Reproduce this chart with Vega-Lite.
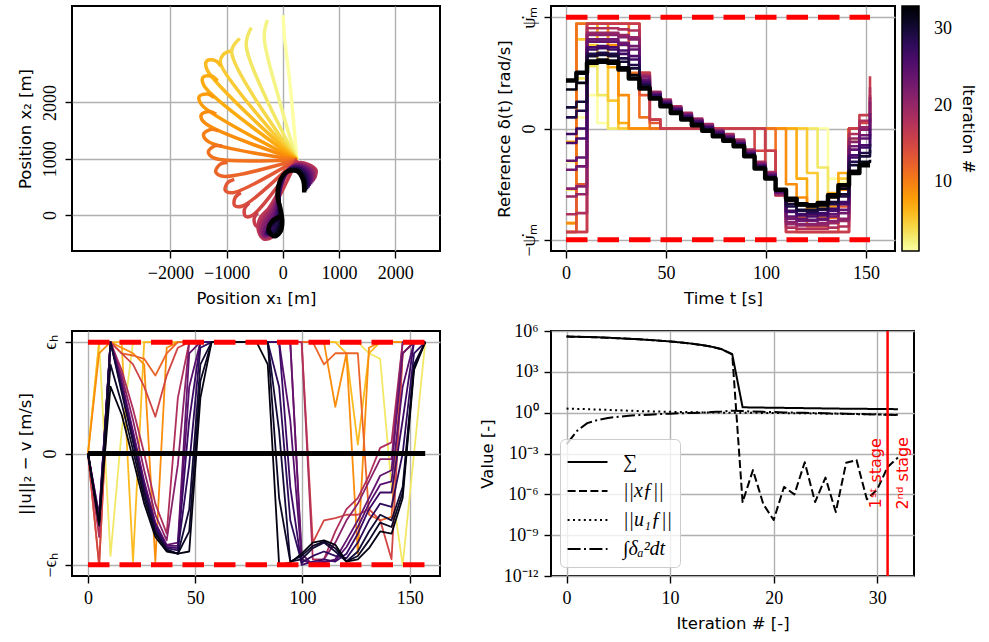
{
  "$schema": "https://vega.github.io/schema/vega-lite/v6.json",
  "background": "white",
  "padding": {"left": 16, "top": 5, "right": 5, "bottom": 5},
  "columns": 2,
  "bounds": "flush",
  "spacing": {"column": 111, "row": 80},
  "config": {
    "font": "DejaVu Sans",
    "view": {"stroke": "black", "strokeWidth": 2},
    "axis": {
      "domain": false, "grid": true, "gridColor": "#b0b0b0", "gridWidth": 1.4,
      "tickColor": "black", "tickSize": 7, "tickWidth": 1.4,
      "labelFont": "Liberation Serif", "labelFontSize": 18, "labelColor": "black", "labelPadding": 6,
      "labelFlush": false, "labelOverlap": false, "labelBound": false,
      "titleFont": "DejaVu Sans", "titleFontSize": 16.5, "titleFontWeight": "normal", "titleColor": "black", "titlePadding": 8
    },
    "line": {"strokeJoin": "round"}
  },
  "resolve": {"scale": {"color": "independent", "strokeDash": "independent"}, "legend": {"color": "independent", "strokeDash": "independent"}},
  "datasets": {
    "traj": [
      {"k":1,"x":250,"y":980},{"k":1,"x":120,"y":2400},{"k":1,"x":30,"y":3150},{"k":1,"x":5,"y":3550},
      {"k":2,"x":250,"y":980},{"k":2,"x":-60,"y":2030},{"k":2,"x":-330,"y":3150},{"k":2,"x":-275,"y":3465},
      {"k":3,"x":250,"y":980},{"k":3,"x":-650,"y":3000},{"k":3,"x":-560,"y":3330},
      {"k":4,"x":250,"y":980},{"k":4,"x":-910,"y":2900},{"k":4,"x":-765,"y":3135},
      {"k":5,"x":250,"y":980},{"k":5,"x":-1110,"y":2700},{"k":5,"x":-1060,"y":2850},{"k":5,"x":-936,"y":2913},
      {"k":6,"x":250,"y":980},{"k":6,"x":-1349,"y":2584},{"k":6,"x":-1349,"y":2740},{"k":6,"x":-1193,"y":2739},{"k":6,"x":-1101,"y":2647},
      {"k":7,"x":250,"y":980},{"k":7,"x":-1399,"y":2292},{"k":7,"x":-1417,"y":2447},{"k":7,"x":-1262,"y":2464},{"k":7,"x":-1160,"y":2383},
      {"k":8,"x":250,"y":980},{"k":8,"x":-1444,"y":1958},{"k":8,"x":-1484,"y":2108},{"k":8,"x":-1334,"y":2149},{"k":8,"x":-1221,"y":2084},
      {"k":9,"x":250,"y":980},{"k":9,"x":-1390,"y":1636},{"k":9,"x":-1451,"y":1779},{"k":9,"x":-1308,"y":1840},{"k":9,"x":-1187,"y":1792},
      {"k":10,"x":250,"y":980},{"k":10,"x":-1323,"y":1303},{"k":10,"x":-1409,"y":1433},{"k":10,"x":-1279,"y":1519},{"k":10,"x":-1152,"y":1493},
      {"k":11,"x":250,"y":980},{"k":11,"x":-1217,"y":1008},{"k":11,"x":-1325,"y":1120},{"k":11,"x":-1213,"y":1228},{"k":11,"x":-1083,"y":1226},
      {"k":12,"x":250,"y":980},{"k":12,"x":-1063,"y":687},{"k":12,"x":-1194,"y":770},{"k":12,"x":-1111,"y":902},{"k":12,"x":-984,"y":930},
      {"k":13,"x":250,"y":980},{"k":13,"x":-889,"y":396},{"k":13,"x":-1024,"y":439},{"k":13,"x":-980,"y":574},{"k":13,"x":-864,"y":633},
      {"k":14,"x":250,"y":980},{"k":14,"x":-717,"y":160},{"k":14,"x":-858,"y":172},{"k":14,"x":-846,"y":313},{"k":14,"x":-747,"y":397},
      {"k":15,"x":250,"y":980},{"k":15,"x":-540,"y":-7},{"k":15,"x":-667,"y":-21},{"k":15,"x":-681,"y":106},{"k":15,"x":-600,"y":208},
      {"k":16,"x":250,"y":980},{"k":16,"x":-352,"y":-157},{"k":16,"x":-474,"y":-194},{"k":16,"x":-511,"y":-73},{"k":16,"x":-450,"y":42},
      {"k":17,"x":560,"y":640},{"k":17,"x":590,"y":800},{"k":17,"x":450,"y":900},{"k":17,"x":280,"y":930},{"k":17,"x":120,"y":820},{"k":17,"x":0,"y":600},{"k":17,"x":-120,"y":330},{"k":17,"x":-250,"y":120},{"k":17,"x":-400,"y":-50},{"k":17,"x":-440,"y":-250},{"k":17,"x":-350,"y":-420},{"k":17,"x":-200,"y":-400},{"k":17,"x":-120,"y":-300},
      {"k":19,"x":538,"y":610},{"k":19,"x":561,"y":778},{"k":19,"x":425,"y":885},{"k":19,"x":253,"y":909},{"k":19,"x":98,"y":790},{"k":19,"x":-12,"y":568},{"k":19,"x":-110,"y":301},{"k":19,"x":-220,"y":90},{"k":19,"x":-355,"y":-80},{"k":19,"x":-404,"y":-266},{"k":19,"x":-338,"y":-400},{"k":19,"x":-199,"y":-364},{"k":19,"x":-110,"y":-265},
      {"k":21,"x":515,"y":580},{"k":21,"x":532,"y":755},{"k":21,"x":400,"y":870},{"k":21,"x":225,"y":888},{"k":21,"x":75,"y":760},{"k":21,"x":-24,"y":535},{"k":21,"x":-100,"y":272},{"k":21,"x":-190,"y":60},{"k":21,"x":-310,"y":-110},{"k":21,"x":-368,"y":-282},{"k":21,"x":-325,"y":-380},{"k":21,"x":-198,"y":-328},{"k":21,"x":-100,"y":-230},
      {"k":23,"x":493,"y":550},{"k":23,"x":504,"y":733},{"k":23,"x":375,"y":855},{"k":23,"x":198,"y":867},{"k":23,"x":53,"y":730},{"k":23,"x":-36,"y":503},{"k":23,"x":-90,"y":244},{"k":23,"x":-160,"y":30},{"k":23,"x":-265,"y":-140},{"k":23,"x":-332,"y":-299},{"k":23,"x":-313,"y":-360},{"k":23,"x":-197,"y":-292},{"k":23,"x":-90,"y":-195},
      {"k":25,"x":470,"y":520},{"k":25,"x":475,"y":710},{"k":25,"x":350,"y":840},{"k":25,"x":170,"y":845},{"k":25,"x":30,"y":700},{"k":25,"x":-47,"y":470},{"k":25,"x":-80,"y":215},{"k":25,"x":-130,"y":0},{"k":25,"x":-220,"y":-170},{"k":25,"x":-295,"y":-315},{"k":25,"x":-300,"y":-340},{"k":25,"x":-195,"y":-255},{"k":25,"x":-80,"y":-160},
      {"k":27,"x":448,"y":490},{"k":27,"x":447,"y":688},{"k":27,"x":325,"y":825},{"k":27,"x":143,"y":824},{"k":27,"x":8,"y":670},{"k":27,"x":-59,"y":438},{"k":27,"x":-70,"y":187},{"k":27,"x":-100,"y":-30},{"k":27,"x":-175,"y":-200},{"k":27,"x":-259,"y":-332},{"k":27,"x":-288,"y":-320},{"k":27,"x":-194,"y":-219},{"k":27,"x":-70,"y":-125},
      {"k":29,"x":425,"y":460},{"k":29,"x":418,"y":665},{"k":29,"x":300,"y":810},{"k":29,"x":115,"y":802},{"k":29,"x":-15,"y":640},{"k":29,"x":-71,"y":405},{"k":29,"x":-60,"y":158},{"k":29,"x":-70,"y":-60},{"k":29,"x":-130,"y":-230},{"k":29,"x":-222,"y":-348},{"k":29,"x":-275,"y":-300},{"k":29,"x":-192,"y":-182},{"k":29,"x":-60,"y":-90},
      {"k":31,"x":403,"y":430},{"k":31,"x":389,"y":643},{"k":31,"x":275,"y":795},{"k":31,"x":88,"y":781},{"k":31,"x":-38,"y":610},{"k":31,"x":-83,"y":373},{"k":31,"x":-50,"y":129},{"k":31,"x":-40,"y":-90},{"k":31,"x":-85,"y":-260},{"k":31,"x":-186,"y":-364},{"k":31,"x":-263,"y":-280},{"k":31,"x":-191,"y":-146},{"k":31,"x":-50,"y":-55},
      {"k":33,"x":380,"y":400},{"k":33,"x":360,"y":620},{"k":33,"x":250,"y":780},{"k":33,"x":60,"y":760},{"k":33,"x":-60,"y":580},{"k":33,"x":-95,"y":340},{"k":33,"x":-40,"y":100},{"k":33,"x":-10,"y":-120},{"k":33,"x":-40,"y":-290},{"k":33,"x":-150,"y":-380},{"k":33,"x":-250,"y":-260},{"k":33,"x":-190,"y":-110},{"k":33,"x":-40,"y":-20}
    ],
    "ref": [
      {"k":1,"t":0,"d":-0.3},{"k":1,"t":5.2,"d":0.1},{"k":1,"t":10.5,"d":0.3},{"k":1,"t":15.7,"d":0.05},{"k":1,"t":21,"d":0},{"k":1,"t":131,"d":-0.45},{"k":1,"t":136.2,"d":-0.48},{"k":1,"t":141.5,"d":-0.1},{"k":1,"t":146.7,"d":0},{"k":1,"t":152,"d":0},
      {"k":3,"t":0,"d":-0.55},{"k":3,"t":5.2,"d":0.45},{"k":3,"t":10.5,"d":0.56},{"k":3,"t":15.7,"d":0.3},{"k":3,"t":21,"d":0},{"k":3,"t":125.8,"d":-0.35},{"k":3,"t":131,"d":-0.62},{"k":3,"t":136.2,"d":-0.5},{"k":3,"t":141.5,"d":0},{"k":3,"t":152,"d":0},
      {"k":5,"t":0,"d":-0.85},{"k":5,"t":5.2,"d":0.8},{"k":5,"t":10.5,"d":0.75},{"k":5,"t":15.7,"d":0.6},{"k":5,"t":21,"d":0.25},{"k":5,"t":26.2,"d":0},{"k":5,"t":120.5,"d":-0.4},{"k":5,"t":125.8,"d":-0.68},{"k":5,"t":131,"d":-0.62},{"k":5,"t":136.2,"d":-0.45},{"k":5,"t":141.5,"d":0},{"k":5,"t":152,"d":0},
      {"k":7,"t":0,"d":-0.12},{"k":7,"t":5.2,"d":0.94},{"k":7,"t":15.7,"d":0.8},{"k":7,"t":21,"d":0.55},{"k":7,"t":26.2,"d":0.05},{"k":7,"t":31.4,"d":0},{"k":7,"t":115.3,"d":-0.45},{"k":7,"t":120.5,"d":-0.72},{"k":7,"t":125.8,"d":-0.7},{"k":7,"t":131,"d":-0.58},{"k":7,"t":136.2,"d":-0.4},{"k":7,"t":141.5,"d":0},{"k":7,"t":152,"d":0},
      {"k":9,"t":0,"d":-0.85},{"k":9,"t":5.2,"d":0.94},{"k":9,"t":21,"d":0.75},{"k":9,"t":26.2,"d":0.3},{"k":9,"t":31.4,"d":0},{"k":9,"t":110,"d":-0.5},{"k":9,"t":115.3,"d":-0.62},{"k":9,"t":120.5,"d":-0.78},{"k":9,"t":125.8,"d":-0.8},{"k":9,"t":131,"d":-0.7},{"k":9,"t":136.2,"d":-0.55},{"k":9,"t":141.5,"d":0},{"k":9,"t":152,"d":0},
      {"k":11,"t":0,"d":-0.93},{"k":11,"t":5.2,"d":0.94},{"k":11,"t":31.4,"d":0.5},{"k":11,"t":36.7,"d":0.1},{"k":11,"t":41.9,"d":0},{"k":11,"t":104.8,"d":-0.55},{"k":11,"t":110,"d":-0.65},{"k":11,"t":115.3,"d":-0.8},{"k":11,"t":120.5,"d":-0.88},{"k":11,"t":131,"d":-0.8},{"k":11,"t":136.2,"d":-0.6},{"k":11,"t":141.5,"d":0},{"k":11,"t":152,"d":0},
      {"k":13,"t":0,"d":-0.93},{"k":13,"t":5.2,"d":-0.5},{"k":13,"t":10.5,"d":0.94},{"k":13,"t":36.7,"d":0.3},{"k":13,"t":41.9,"d":0.05},{"k":13,"t":47.2,"d":0},{"k":13,"t":99.6,"d":-0.2},{"k":13,"t":104.8,"d":-0.6},{"k":13,"t":110,"d":-0.8},{"k":13,"t":115.3,"d":-0.93},{"k":13,"t":136.2,"d":-0.7},{"k":13,"t":141.5,"d":0},{"k":13,"t":152,"d":0},
      {"k":15,"t":0,"d":-0.93},{"k":15,"t":10.5,"d":0.94},{"k":15,"t":36.7,"d":0.5},{"k":15,"t":41.9,"d":0.08},{"k":15,"t":47.2,"d":0},{"k":15,"t":94.3,"d":-0.2},{"k":15,"t":99.6,"d":-0.4},{"k":15,"t":104.8,"d":-0.6},{"k":15,"t":110,"d":-0.93},{"k":15,"t":141.5,"d":0},{"k":15,"t":146.7,"d":0.05},{"k":15,"t":152,"d":0.3},
      {"k":16,"t":0,"d":-0.93},{"k":16,"t":10.5,"d":0.94},{"k":16,"t":36.7,"d":0.5},{"k":16,"t":41.9,"d":0.08},{"k":16,"t":47.2,"d":0},{"k":16,"t":99.6,"d":-0.2},{"k":16,"t":104.8,"d":-0.55},{"k":16,"t":110,"d":-0.93},{"k":16,"t":141.5,"d":0},{"k":16,"t":146.7,"d":0.12},{"k":16,"t":152,"d":0.47},
      {"k":18,"t":0,"d":-0.77},{"k":18,"t":5.2,"d":-0.76},{"k":18,"t":10.5,"d":0.9},{"k":18,"t":15.7,"d":0.9},{"k":18,"t":21,"d":0.9},{"k":18,"t":26.2,"d":0.89},{"k":18,"t":31.4,"d":0.88},{"k":18,"t":36.7,"d":0.48},{"k":18,"t":41.9,"d":0.33},{"k":18,"t":47.2,"d":0.26},{"k":18,"t":52.4,"d":0.2},{"k":18,"t":57.6,"d":0.14},{"k":18,"t":62.9,"d":0.09},{"k":18,"t":68.1,"d":0.04},{"k":18,"t":73.4,"d":-0.01},{"k":18,"t":78.6,"d":-0.05},{"k":18,"t":83.8,"d":-0.1},{"k":18,"t":89.1,"d":-0.19},{"k":18,"t":94.3,"d":-0.3},{"k":18,"t":99.6,"d":-0.39},{"k":18,"t":104.8,"d":-0.6},{"k":18,"t":110,"d":-0.89},{"k":18,"t":115.3,"d":-0.9},{"k":18,"t":120.5,"d":-0.9},{"k":18,"t":125.8,"d":-0.9},{"k":18,"t":131,"d":-0.89},{"k":18,"t":136.2,"d":-0.88},{"k":18,"t":141.5,"d":-0.05},{"k":18,"t":146.7,"d":0.07},{"k":18,"t":152,"d":0.37},
      {"k":20,"t":0,"d":-0.61},{"k":20,"t":5.2,"d":-0.59},{"k":20,"t":10.5,"d":0.86},{"k":20,"t":15.7,"d":0.86},{"k":20,"t":21,"d":0.86},{"k":20,"t":26.2,"d":0.84},{"k":20,"t":31.4,"d":0.82},{"k":20,"t":36.7,"d":0.47},{"k":20,"t":41.9,"d":0.32},{"k":20,"t":47.2,"d":0.25},{"k":20,"t":52.4,"d":0.19},{"k":20,"t":57.6,"d":0.13},{"k":20,"t":62.9,"d":0.08},{"k":20,"t":68.1,"d":0.03},{"k":20,"t":73.4,"d":-0.02},{"k":20,"t":78.6,"d":-0.06},{"k":20,"t":83.8,"d":-0.11},{"k":20,"t":89.1,"d":-0.2},{"k":20,"t":94.3,"d":-0.31},{"k":20,"t":99.6,"d":-0.4},{"k":20,"t":104.8,"d":-0.59},{"k":20,"t":110,"d":-0.86},{"k":20,"t":115.3,"d":-0.87},{"k":20,"t":120.5,"d":-0.87},{"k":20,"t":125.8,"d":-0.87},{"k":20,"t":131,"d":-0.85},{"k":20,"t":136.2,"d":-0.83},{"k":20,"t":141.5,"d":-0.09},{"k":20,"t":146.7,"d":0.01},{"k":20,"t":152,"d":0.28},
      {"k":21,"t":0,"d":-0.54},{"k":21,"t":5.2,"d":-0.52},{"k":21,"t":10.5,"d":0.84},{"k":21,"t":15.7,"d":0.84},{"k":21,"t":21,"d":0.84},{"k":21,"t":26.2,"d":0.82},{"k":21,"t":31.4,"d":0.8},{"k":21,"t":36.7,"d":0.46},{"k":21,"t":41.9,"d":0.32},{"k":21,"t":47.2,"d":0.25},{"k":21,"t":52.4,"d":0.19},{"k":21,"t":57.6,"d":0.13},{"k":21,"t":62.9,"d":0.08},{"k":21,"t":68.1,"d":0.03},{"k":21,"t":73.4,"d":-0.02},{"k":21,"t":78.6,"d":-0.07},{"k":21,"t":83.8,"d":-0.12},{"k":21,"t":89.1,"d":-0.21},{"k":21,"t":94.3,"d":-0.32},{"k":21,"t":99.6,"d":-0.41},{"k":21,"t":104.8,"d":-0.58},{"k":21,"t":110,"d":-0.84},{"k":21,"t":115.3,"d":-0.86},{"k":21,"t":120.5,"d":-0.86},{"k":21,"t":125.8,"d":-0.85},{"k":21,"t":131,"d":-0.83},{"k":21,"t":136.2,"d":-0.81},{"k":21,"t":141.5,"d":-0.12},{"k":21,"t":146.7,"d":-0.01},{"k":21,"t":152,"d":0.24},
      {"k":23,"t":0,"d":-0.37},{"k":23,"t":5.2,"d":-0.34},{"k":23,"t":10.5,"d":0.8},{"k":23,"t":15.7,"d":0.8},{"k":23,"t":21,"d":0.8},{"k":23,"t":26.2,"d":0.77},{"k":23,"t":31.4,"d":0.74},{"k":23,"t":36.7,"d":0.44},{"k":23,"t":41.9,"d":0.31},{"k":23,"t":47.2,"d":0.24},{"k":23,"t":52.4,"d":0.18},{"k":23,"t":57.6,"d":0.12},{"k":23,"t":62.9,"d":0.07},{"k":23,"t":68.1,"d":0.02},{"k":23,"t":73.4,"d":-0.03},{"k":23,"t":78.6,"d":-0.07},{"k":23,"t":83.8,"d":-0.12},{"k":23,"t":89.1,"d":-0.21},{"k":23,"t":94.3,"d":-0.32},{"k":23,"t":99.6,"d":-0.41},{"k":23,"t":104.8,"d":-0.575},{"k":23,"t":110,"d":-0.81},{"k":23,"t":115.3,"d":-0.83},{"k":23,"t":120.5,"d":-0.83},{"k":23,"t":125.8,"d":-0.82},{"k":23,"t":131,"d":-0.79},{"k":23,"t":136.2,"d":-0.76},{"k":23,"t":141.5,"d":-0.16},{"k":23,"t":146.7,"d":-0.06},{"k":23,"t":152,"d":0.14},
      {"k":24,"t":0,"d":-0.29},{"k":24,"t":5.2,"d":-0.26},{"k":24,"t":10.5,"d":0.78},{"k":24,"t":15.7,"d":0.78},{"k":24,"t":21,"d":0.78},{"k":24,"t":26.2,"d":0.75},{"k":24,"t":31.4,"d":0.71},{"k":24,"t":36.7,"d":0.43},{"k":24,"t":41.9,"d":0.31},{"k":24,"t":47.2,"d":0.24},{"k":24,"t":52.4,"d":0.18},{"k":24,"t":57.6,"d":0.12},{"k":24,"t":62.9,"d":0.07},{"k":24,"t":68.1,"d":0.02},{"k":24,"t":73.4,"d":-0.03},{"k":24,"t":78.6,"d":-0.08},{"k":24,"t":83.8,"d":-0.13},{"k":24,"t":89.1,"d":-0.22},{"k":24,"t":94.3,"d":-0.33},{"k":24,"t":99.6,"d":-0.42},{"k":24,"t":104.8,"d":-0.57},{"k":24,"t":110,"d":-0.79},{"k":24,"t":115.3,"d":-0.81},{"k":24,"t":120.5,"d":-0.82},{"k":24,"t":125.8,"d":-0.81},{"k":24,"t":131,"d":-0.77},{"k":24,"t":136.2,"d":-0.73},{"k":24,"t":141.5,"d":-0.19},{"k":24,"t":146.7,"d":-0.09},{"k":24,"t":152,"d":0.09},
      {"k":26,"t":0,"d":-0.13},{"k":26,"t":5.2,"d":-0.09},{"k":26,"t":10.5,"d":0.73},{"k":26,"t":15.7,"d":0.74},{"k":26,"t":21,"d":0.73},{"k":26,"t":26.2,"d":0.7},{"k":26,"t":31.4,"d":0.65},{"k":26,"t":36.7,"d":0.42},{"k":26,"t":41.9,"d":0.3},{"k":26,"t":47.2,"d":0.227},{"k":26,"t":52.4,"d":0.167},{"k":26,"t":57.6,"d":0.107},{"k":26,"t":62.9,"d":0.057},{"k":26,"t":68.1,"d":0.007},{"k":26,"t":73.4,"d":-0.043},{"k":26,"t":78.6,"d":-0.083},{"k":26,"t":83.8,"d":-0.133},{"k":26,"t":89.1,"d":-0.223},{"k":26,"t":94.3,"d":-0.333},{"k":26,"t":99.6,"d":-0.423},{"k":26,"t":104.8,"d":-0.565},{"k":26,"t":110,"d":-0.75},{"k":26,"t":115.3,"d":-0.78},{"k":26,"t":120.5,"d":-0.79},{"k":26,"t":125.8,"d":-0.78},{"k":26,"t":131,"d":-0.74},{"k":26,"t":136.2,"d":-0.68},{"k":26,"t":141.5,"d":-0.24},{"k":26,"t":146.7,"d":-0.15},{"k":26,"t":152,"d":0},
      {"k":27,"t":0,"d":-0.05},{"k":27,"t":5.2,"d":0.0},{"k":27,"t":10.5,"d":0.71},{"k":27,"t":15.7,"d":0.72},{"k":27,"t":21,"d":0.71},{"k":27,"t":26.2,"d":0.67},{"k":27,"t":31.4,"d":0.62},{"k":27,"t":36.7,"d":0.41},{"k":27,"t":41.9,"d":0.3},{"k":27,"t":47.2,"d":0.23},{"k":27,"t":52.4,"d":0.17},{"k":27,"t":57.6,"d":0.11},{"k":27,"t":62.9,"d":0.06},{"k":27,"t":68.1,"d":0.01},{"k":27,"t":73.4,"d":-0.04},{"k":27,"t":78.6,"d":-0.09},{"k":27,"t":83.8,"d":-0.14},{"k":27,"t":89.1,"d":-0.23},{"k":27,"t":94.3,"d":-0.34},{"k":27,"t":99.6,"d":-0.43},{"k":27,"t":104.8,"d":-0.56},{"k":27,"t":110,"d":-0.74},{"k":27,"t":115.3,"d":-0.77},{"k":27,"t":120.5,"d":-0.77},{"k":27,"t":125.8,"d":-0.76},{"k":27,"t":131,"d":-0.72},{"k":27,"t":136.2,"d":-0.66},{"k":27,"t":141.5,"d":-0.26},{"k":27,"t":146.7,"d":-0.17},{"k":27,"t":152,"d":-0.05},
      {"k":29,"t":0,"d":0.1},{"k":29,"t":5.2,"d":0.16},{"k":29,"t":10.5,"d":0.67},{"k":29,"t":15.7,"d":0.68},{"k":29,"t":21,"d":0.67},{"k":29,"t":26.2,"d":0.63},{"k":29,"t":31.4,"d":0.57},{"k":29,"t":36.7,"d":0.39},{"k":29,"t":41.9,"d":0.285},{"k":29,"t":47.2,"d":0.215},{"k":29,"t":52.4,"d":0.155},{"k":29,"t":57.6,"d":0.095},{"k":29,"t":62.9,"d":0.045},{"k":29,"t":68.1,"d":-0.005},{"k":29,"t":73.4,"d":-0.055},{"k":29,"t":78.6,"d":-0.095},{"k":29,"t":83.8,"d":-0.145},{"k":29,"t":89.1,"d":-0.235},{"k":29,"t":94.3,"d":-0.345},{"k":29,"t":99.6,"d":-0.435},{"k":29,"t":104.8,"d":-0.555},{"k":29,"t":110,"d":-0.7},{"k":29,"t":115.3,"d":-0.74},{"k":29,"t":120.5,"d":-0.75},{"k":29,"t":125.8,"d":-0.73},{"k":29,"t":131,"d":-0.68},{"k":29,"t":136.2,"d":-0.61},{"k":29,"t":141.5,"d":-0.3},{"k":29,"t":146.7,"d":-0.22},{"k":29,"t":152,"d":-0.14},
      {"k":30,"t":0,"d":0.19},{"k":30,"t":5.2,"d":0.24},{"k":30,"t":10.5,"d":0.65},{"k":30,"t":15.7,"d":0.66},{"k":30,"t":21,"d":0.65},{"k":30,"t":26.2,"d":0.6},{"k":30,"t":31.4,"d":0.54},{"k":30,"t":36.7,"d":0.39},{"k":30,"t":41.9,"d":0.28},{"k":30,"t":47.2,"d":0.21},{"k":30,"t":52.4,"d":0.15},{"k":30,"t":57.6,"d":0.09},{"k":30,"t":62.9,"d":0.04},{"k":30,"t":68.1,"d":-0.01},{"k":30,"t":73.4,"d":-0.06},{"k":30,"t":78.6,"d":-0.1},{"k":30,"t":83.8,"d":-0.15},{"k":30,"t":89.1,"d":-0.24},{"k":30,"t":94.3,"d":-0.35},{"k":30,"t":99.6,"d":-0.44},{"k":30,"t":104.8,"d":-0.55},{"k":30,"t":110,"d":-0.68},{"k":30,"t":115.3,"d":-0.73},{"k":30,"t":120.5,"d":-0.73},{"k":30,"t":125.8,"d":-0.72},{"k":30,"t":131,"d":-0.66},{"k":30,"t":136.2,"d":-0.59},{"k":30,"t":141.5,"d":-0.33},{"k":30,"t":146.7,"d":-0.25},{"k":30,"t":152,"d":-0.19},
      {"k":32,"t":0,"d":0.35},{"k":32,"t":5.2,"d":0.41},{"k":32,"t":10.5,"d":0.61},{"k":32,"t":15.7,"d":0.62},{"k":32,"t":21,"d":0.61},{"k":32,"t":26.2,"d":0.55},{"k":32,"t":31.4,"d":0.48},{"k":32,"t":36.7,"d":0.37},{"k":32,"t":41.9,"d":0.28},{"k":32,"t":47.2,"d":0.21},{"k":32,"t":52.4,"d":0.15},{"k":32,"t":57.6,"d":0.09},{"k":32,"t":62.9,"d":0.04},{"k":32,"t":68.1,"d":-0.02},{"k":32,"t":73.4,"d":-0.07},{"k":32,"t":78.6,"d":-0.11},{"k":32,"t":83.8,"d":-0.16},{"k":32,"t":89.1,"d":-0.25},{"k":32,"t":94.3,"d":-0.36},{"k":32,"t":99.6,"d":-0.45},{"k":32,"t":104.8,"d":-0.55},{"k":32,"t":110,"d":-0.65},{"k":32,"t":115.3,"d":-0.69},{"k":32,"t":120.5,"d":-0.7},{"k":32,"t":125.8,"d":-0.69},{"k":32,"t":131,"d":-0.62},{"k":32,"t":136.2,"d":-0.54},{"k":32,"t":141.5,"d":-0.38},{"k":32,"t":146.7,"d":-0.3},{"k":32,"t":152,"d":-0.28},
      {"k":33,"t":0,"d":0.43},{"k":33,"t":5.2,"d":0.5},{"k":33,"t":10.5,"d":0.59},{"k":33,"t":15.7,"d":0.6},{"k":33,"t":21,"d":0.59},{"k":33,"t":26.2,"d":0.53},{"k":33,"t":31.4,"d":0.45},{"k":33,"t":36.7,"d":0.36},{"k":33,"t":41.9,"d":0.27},{"k":33,"t":47.2,"d":0.2},{"k":33,"t":52.4,"d":0.14},{"k":33,"t":57.6,"d":0.08},{"k":33,"t":62.9,"d":0.03},{"k":33,"t":68.1,"d":-0.02},{"k":33,"t":73.4,"d":-0.07},{"k":33,"t":78.6,"d":-0.11},{"k":33,"t":83.8,"d":-0.16},{"k":33,"t":89.1,"d":-0.25},{"k":33,"t":94.3,"d":-0.36},{"k":33,"t":99.6,"d":-0.45},{"k":33,"t":104.8,"d":-0.55},{"k":33,"t":110,"d":-0.63},{"k":33,"t":115.3,"d":-0.68},{"k":33,"t":120.5,"d":-0.69},{"k":33,"t":125.8,"d":-0.67},{"k":33,"t":131,"d":-0.6},{"k":33,"t":136.2,"d":-0.51},{"k":33,"t":141.5,"d":-0.4},{"k":33,"t":146.7,"d":-0.33},{"k":33,"t":152,"d":-0.33}
    ],
    "uerr": [
      {"k":3,"t":0,"u":0},{"k":3,"t":5.2,"u":1},{"k":3,"t":10.5,"u":-0.92},{"k":3,"t":15.7,"u":0.2},{"k":3,"t":21,"u":1},{"k":3,"t":125.8,"u":1},{"k":3,"t":131,"u":0.9},{"k":3,"t":136.2,"u":0.85},{"k":3,"t":141.5,"u":-0.3},{"k":3,"t":146.7,"u":-1},{"k":3,"t":152,"u":0},{"k":3,"t":157.2,"u":1},
      {"k":6,"t":0,"u":0},{"k":6,"t":5.2,"u":1},{"k":6,"t":15.7,"u":1},{"k":6,"t":21,"u":-0.97},{"k":6,"t":26.2,"u":1},{"k":6,"t":115.3,"u":1},{"k":6,"t":120.5,"u":0.9},{"k":6,"t":125.8,"u":0.08},{"k":6,"t":131,"u":0.9},{"k":6,"t":136.2,"u":1},{"k":6,"t":157.2,"u":1},
      {"k":9,"t":0,"u":0},{"k":9,"t":5.2,"u":0.9},{"k":9,"t":10.5,"u":1},{"k":9,"t":15.7,"u":0.95},{"k":9,"t":21,"u":0.9},{"k":9,"t":26.2,"u":0.8},{"k":9,"t":31.4,"u":-0.97},{"k":9,"t":36.7,"u":0.95},{"k":9,"t":41.9,"u":1},{"k":9,"t":110,"u":1},{"k":9,"t":115.3,"u":0.42},{"k":9,"t":120.5,"u":0.9},{"k":9,"t":125.8,"u":-0.9},{"k":9,"t":131,"u":0.95},{"k":9,"t":136.2,"u":1},{"k":9,"t":157.2,"u":1},
      {"k":12,"t":0,"u":0},{"k":12,"t":5.2,"u":-1},{"k":12,"t":10.5,"u":1},{"k":12,"t":15.7,"u":0.9},{"k":12,"t":21,"u":0.88},{"k":12,"t":26.2,"u":0.85},{"k":12,"t":31.4,"u":0.7},{"k":12,"t":36.7,"u":0.9},{"k":12,"t":41.9,"u":1},{"k":12,"t":104.8,"u":1},{"k":12,"t":110,"u":0.8},{"k":12,"t":115.3,"u":0.9},{"k":12,"t":125.8,"u":0.9},{"k":12,"t":131,"u":-0.55},{"k":12,"t":136.2,"u":-0.6},{"k":12,"t":141.5,"u":-0.57},{"k":12,"t":146.7,"u":0.9},{"k":12,"t":152,"u":1},{"k":12,"t":157.2,"u":1},
      {"k":15,"t":0,"u":0},{"k":15,"t":5.2,"u":-1},{"k":15,"t":10.5,"u":1},{"k":15,"t":15.7,"u":0.9},{"k":15,"t":21,"u":0.8},{"k":15,"t":26.2,"u":0.6},{"k":15,"t":31.4,"u":0.33},{"k":15,"t":36.7,"u":0.7},{"k":15,"t":41.9,"u":0.95},{"k":15,"t":47.2,"u":1},{"k":15,"t":99.6,"u":1},{"k":15,"t":104.8,"u":-0.8},{"k":15,"t":110,"u":-0.6},{"k":15,"t":115.3,"u":-0.58},{"k":15,"t":120.5,"u":-0.55},{"k":15,"t":125.8,"u":-0.55},{"k":15,"t":131,"u":-0.5},{"k":15,"t":136.2,"u":-0.6},{"k":15,"t":141.5,"u":-0.95},{"k":15,"t":146.7,"u":0.9},{"k":15,"t":152,"u":1},{"k":15,"t":157.2,"u":1},
      {"k":18,"t":0,"u":0},{"k":18,"t":5.2,"u":-0.75},{"k":18,"t":10.5,"u":1},{"k":18,"t":15.7,"u":0.75},{"k":18,"t":21,"u":0.4},{"k":18,"t":26.2,"u":0},{"k":18,"t":31.4,"u":-0.45},{"k":18,"t":36.7,"u":-0.72},{"k":18,"t":41.9,"u":0.5},{"k":18,"t":47.2,"u":1},{"k":18,"t":99.6,"u":1},{"k":18,"t":104.8,"u":-0.95},{"k":18,"t":110,"u":-0.95},{"k":18,"t":115.3,"u":-0.7},{"k":18,"t":120.5,"u":-0.5},{"k":18,"t":125.8,"u":-0.4},{"k":18,"t":131,"u":-0.2},{"k":18,"t":136.2,"u":0.05},{"k":18,"t":141.5,"u":0.1},{"k":18,"t":146.7,"u":1},{"k":18,"t":157.2,"u":1},
      {"k":21,"t":0,"u":0},{"k":21,"t":5.2,"u":-0.6},{"k":21,"t":10.5,"u":1},{"k":21,"t":15.7,"u":0.7},{"k":21,"t":21,"u":0.3},{"k":21,"t":26.2,"u":-0.15},{"k":21,"t":31.4,"u":-0.55},{"k":21,"t":36.7,"u":-0.78},{"k":21,"t":41.9,"u":-0.1},{"k":21,"t":47.2,"u":1},{"k":21,"t":94.3,"u":1},{"k":21,"t":99.6,"u":-0.95},{"k":21,"t":104.8,"u":-1},{"k":21,"t":110,"u":-0.95},{"k":21,"t":115.3,"u":-0.8},{"k":21,"t":120.5,"u":-0.6},{"k":21,"t":125.8,"u":-0.45},{"k":21,"t":131,"u":-0.25},{"k":21,"t":136.2,"u":-0.05},{"k":21,"t":141.5,"u":-0.05},{"k":21,"t":146.7,"u":1},{"k":21,"t":157.2,"u":1},
      {"k":24,"t":0,"u":0},{"k":24,"t":5.2,"u":-0.55},{"k":24,"t":10.5,"u":1},{"k":24,"t":15.7,"u":0.65},{"k":24,"t":21,"u":0.2},{"k":24,"t":26.2,"u":-0.25},{"k":24,"t":31.4,"u":-0.62},{"k":24,"t":36.7,"u":-0.82},{"k":24,"t":41.9,"u":-0.8},{"k":24,"t":47.2,"u":0.9},{"k":24,"t":52.4,"u":1},{"k":24,"t":94.3,"u":1},{"k":24,"t":99.6,"u":-0.9},{"k":24,"t":104.8,"u":-1},{"k":24,"t":110,"u":-0.98},{"k":24,"t":115.3,"u":-0.95},{"k":24,"t":120.5,"u":-0.78},{"k":24,"t":125.8,"u":-0.6},{"k":24,"t":131,"u":-0.4},{"k":24,"t":136.2,"u":-0.2},{"k":24,"t":141.5,"u":-0.15},{"k":24,"t":146.7,"u":0.9},{"k":24,"t":152,"u":1},{"k":24,"t":157.2,"u":1},
      {"k":25,"t":0,"u":0},{"k":25,"t":5.2,"u":-0.57},{"k":25,"t":10.5,"u":1},{"k":25,"t":15.7,"u":0.63},{"k":25,"t":21,"u":0.18},{"k":25,"t":26.2,"u":-0.27},{"k":25,"t":31.4,"u":-0.63},{"k":25,"t":36.7,"u":-0.83},{"k":25,"t":41.9,"u":-0.83},{"k":25,"t":47.2,"u":0.6},{"k":25,"t":52.4,"u":1},{"k":25,"t":89.1,"u":1},{"k":25,"t":94.3,"u":0.3},{"k":25,"t":99.6,"u":-0.95},{"k":25,"t":104.8,"u":-0.99},{"k":25,"t":110,"u":-0.97},{"k":25,"t":115.3,"u":-0.96},{"k":25,"t":120.5,"u":-0.84},{"k":25,"t":125.8,"u":-0.66},{"k":25,"t":131,"u":-0.45},{"k":25,"t":136.2,"u":-0.28},{"k":25,"t":141.5,"u":-0.25},{"k":25,"t":146.7,"u":0.6},{"k":25,"t":152,"u":1},{"k":25,"t":157.2,"u":1},
      {"k":27,"t":0,"u":0},{"k":27,"t":5.2,"u":-0.6},{"k":27,"t":10.5,"u":1},{"k":27,"t":15.7,"u":0.6},{"k":27,"t":21,"u":0.15},{"k":27,"t":26.2,"u":-0.3},{"k":27,"t":31.4,"u":-0.65},{"k":27,"t":36.7,"u":-0.84},{"k":27,"t":41.9,"u":-0.85},{"k":27,"t":47.2,"u":0.3},{"k":27,"t":52.4,"u":1},{"k":27,"t":89.1,"u":1},{"k":27,"t":94.3,"u":-0.3},{"k":27,"t":99.6,"u":-1},{"k":27,"t":104.8,"u":-0.97},{"k":27,"t":110,"u":-0.95},{"k":27,"t":115.3,"u":-0.97},{"k":27,"t":120.5,"u":-0.9},{"k":27,"t":125.8,"u":-0.72},{"k":27,"t":131,"u":-0.5},{"k":27,"t":136.2,"u":-0.35},{"k":27,"t":141.5,"u":-0.35},{"k":27,"t":146.7,"u":0.3},{"k":27,"t":152,"u":1},{"k":27,"t":157.2,"u":1},
      {"k":28,"t":0,"u":0},{"k":28,"t":5.2,"u":-0.62},{"k":28,"t":10.5,"u":1},{"k":28,"t":15.7,"u":0.58},{"k":28,"t":21,"u":0.12},{"k":28,"t":26.2,"u":-0.32},{"k":28,"t":31.4,"u":-0.67},{"k":28,"t":36.7,"u":-0.85},{"k":28,"t":41.9,"u":-0.87},{"k":28,"t":47.2,"u":-0.1},{"k":28,"t":52.4,"u":0.95},{"k":28,"t":57.6,"u":1},{"k":28,"t":83.8,"u":1},{"k":28,"t":89.1,"u":0.6},{"k":28,"t":94.3,"u":-0.6},{"k":28,"t":99.6,"u":-0.98},{"k":28,"t":104.8,"u":-0.92},{"k":28,"t":110,"u":-0.88},{"k":28,"t":115.3,"u":-0.92},{"k":28,"t":120.5,"u":-0.94},{"k":28,"t":125.8,"u":-0.8},{"k":28,"t":131,"u":-0.6},{"k":28,"t":136.2,"u":-0.45},{"k":28,"t":141.5,"u":-0.48},{"k":28,"t":146.7,"u":0},{"k":28,"t":152,"u":0.9},{"k":28,"t":157.2,"u":1},
      {"k":30,"t":0,"u":0},{"k":30,"t":5.2,"u":-0.65},{"k":30,"t":10.5,"u":1},{"k":30,"t":15.7,"u":0.55},{"k":30,"t":21,"u":0.1},{"k":30,"t":26.2,"u":-0.35},{"k":30,"t":31.4,"u":-0.7},{"k":30,"t":36.7,"u":-0.86},{"k":30,"t":41.9,"u":-0.9},{"k":30,"t":47.2,"u":-0.5},{"k":30,"t":52.4,"u":0.8},{"k":30,"t":57.6,"u":1},{"k":30,"t":83.8,"u":1},{"k":30,"t":89.1,"u":0.2},{"k":30,"t":94.3,"u":-0.97},{"k":30,"t":99.6,"u":-0.95},{"k":30,"t":104.8,"u":-0.85},{"k":30,"t":110,"u":-0.8},{"k":30,"t":115.3,"u":-0.88},{"k":30,"t":120.5,"u":-0.97},{"k":30,"t":125.8,"u":-0.88},{"k":30,"t":131,"u":-0.7},{"k":30,"t":136.2,"u":-0.55},{"k":30,"t":141.5,"u":-0.6},{"k":30,"t":146.7,"u":-0.3},{"k":30,"t":152,"u":0.8},{"k":30,"t":157.2,"u":1},
      {"k":31,"t":0,"u":0},{"k":31,"t":5.2,"u":-0.63},{"k":31,"t":10.5,"u":0.8},{"k":31,"t":15.7,"u":0.45},{"k":31,"t":21,"u":0.03},{"k":31,"t":26.2,"u":-0.4},{"k":31,"t":31.4,"u":-0.72},{"k":31,"t":36.7,"u":-0.87},{"k":31,"t":41.9,"u":-0.9},{"k":31,"t":47.2,"u":-0.7},{"k":31,"t":52.4,"u":0.65},{"k":31,"t":57.6,"u":1},{"k":31,"t":83.8,"u":1},{"k":31,"t":89.1,"u":-0.4},{"k":31,"t":94.3,"u":-0.97},{"k":31,"t":99.6,"u":-0.92},{"k":31,"t":104.8,"u":-0.83},{"k":31,"t":110,"u":-0.79},{"k":31,"t":115.3,"u":-0.85},{"k":31,"t":120.5,"u":-0.97},{"k":31,"t":125.8,"u":-0.92},{"k":31,"t":131,"u":-0.78},{"k":31,"t":136.2,"u":-0.62},{"k":31,"t":141.5,"u":-0.66},{"k":31,"t":146.7,"u":-0.35},{"k":31,"t":152,"u":0.78},{"k":31,"t":157.2,"u":1},
      {"k":32,"t":0,"u":0},{"k":32,"t":5.2,"u":-0.62},{"k":32,"t":10.5,"u":0.6},{"k":32,"t":15.7,"u":0.35},{"k":32,"t":21,"u":-0.05},{"k":32,"t":26.2,"u":-0.45},{"k":32,"t":31.4,"u":-0.75},{"k":32,"t":36.7,"u":-0.88},{"k":32,"t":41.9,"u":-0.9},{"k":32,"t":47.2,"u":-0.88},{"k":32,"t":52.4,"u":0.5},{"k":32,"t":57.6,"u":1},{"k":32,"t":78.6,"u":1},{"k":32,"t":83.8,"u":0.8},{"k":32,"t":89.1,"u":-1},{"k":32,"t":94.3,"u":-0.98},{"k":32,"t":99.6,"u":-0.9},{"k":32,"t":104.8,"u":-0.8},{"k":32,"t":110,"u":-0.78},{"k":32,"t":115.3,"u":-0.82},{"k":32,"t":120.5,"u":-0.97},{"k":32,"t":125.8,"u":-0.95},{"k":32,"t":131,"u":-0.85},{"k":32,"t":136.2,"u":-0.7},{"k":32,"t":141.5,"u":-0.72},{"k":32,"t":146.7,"u":-0.4},{"k":32,"t":152,"u":0.75},{"k":32,"t":157.2,"u":1},
      {"k":33,"t":0,"u":0},{"k":33,"t":157.2,"u":0}
    ],
    "conv": [
      {"s":"∑","i":0,"v":390000},{"s":"∑","i":1,"v":375000},{"s":"∑","i":2,"v":360000},{"s":"∑","i":3,"v":345000},{"s":"∑","i":4,"v":320000},{"s":"∑","i":5,"v":295000},{"s":"∑","i":6,"v":270000},{"s":"∑","i":7,"v":245000},{"s":"∑","i":8,"v":220000},{"s":"∑","i":9,"v":195000},{"s":"∑","i":10,"v":170000},{"s":"∑","i":11,"v":145000},{"s":"∑","i":12,"v":120000},{"s":"∑","i":13,"v":95000},{"s":"∑","i":14,"v":70000},{"s":"∑","i":15,"v":45000},{"s":"∑","i":16,"v":19500},{"s":"∑","i":17,"v":2.5},{"s":"∑","i":18,"v":2.4},{"s":"∑","i":19,"v":2.35},{"s":"∑","i":20,"v":2.3},{"s":"∑","i":21,"v":2.25},{"s":"∑","i":22,"v":2.2},{"s":"∑","i":23,"v":2.15},{"s":"∑","i":24,"v":2.1},{"s":"∑","i":25,"v":2.05},{"s":"∑","i":26,"v":2.0},{"s":"∑","i":27,"v":1.95},{"s":"∑","i":28,"v":1.9},{"s":"∑","i":29,"v":1.9},{"s":"∑","i":30,"v":1.85},{"s":"∑","i":31,"v":1.85},{"s":"∑","i":32,"v":1.8},
      {"s":"||xƒ||","i":0,"v":390000},{"s":"||xƒ||","i":1,"v":375000},{"s":"||xƒ||","i":2,"v":360000},{"s":"||xƒ||","i":3,"v":345000},{"s":"||xƒ||","i":4,"v":320000},{"s":"||xƒ||","i":5,"v":295000},{"s":"||xƒ||","i":6,"v":270000},{"s":"||xƒ||","i":7,"v":245000},{"s":"||xƒ||","i":8,"v":220000},{"s":"||xƒ||","i":9,"v":195000},{"s":"||xƒ||","i":10,"v":170000},{"s":"||xƒ||","i":11,"v":145000},{"s":"||xƒ||","i":12,"v":120000},{"s":"||xƒ||","i":13,"v":95000},{"s":"||xƒ||","i":14,"v":70000},{"s":"||xƒ||","i":15,"v":45000},{"s":"||xƒ||","i":16,"v":19500},{"s":"||xƒ||","i":17,"v":2.7e-7},{"s":"||xƒ||","i":18,"v":6e-5},{"s":"||xƒ||","i":19,"v":1.9e-7},{"s":"||xƒ||","i":20,"v":1.3e-8},{"s":"||xƒ||","i":21,"v":3.5e-6},{"s":"||xƒ||","i":22,"v":1e-6},{"s":"||xƒ||","i":23,"v":2.3e-4},{"s":"||xƒ||","i":24,"v":2.7e-7},{"s":"||xƒ||","i":25,"v":1.7e-5},{"s":"||xƒ||","i":26,"v":5e-8},{"s":"||xƒ||","i":27,"v":2.1e-4},{"s":"||xƒ||","i":28,"v":3.3e-4},{"s":"||xƒ||","i":29,"v":4.3e-7},{"s":"||xƒ||","i":30,"v":2.3e-6},{"s":"||xƒ||","i":31,"v":1e-4},{"s":"||xƒ||","i":32,"v":5e-4},
      {"s":"||u₁ƒ||","i":0,"v":2.0},{"s":"||u₁ƒ||","i":1,"v":1.9},{"s":"||u₁ƒ||","i":2,"v":1.8},{"s":"||u₁ƒ||","i":3,"v":1.7},{"s":"||u₁ƒ||","i":4,"v":1.6},{"s":"||u₁ƒ||","i":5,"v":1.5},{"s":"||u₁ƒ||","i":6,"v":1.4},{"s":"||u₁ƒ||","i":7,"v":1.3},{"s":"||u₁ƒ||","i":8,"v":1.25},{"s":"||u₁ƒ||","i":9,"v":1.2},{"s":"||u₁ƒ||","i":10,"v":1.15},{"s":"||u₁ƒ||","i":11,"v":1.1},{"s":"||u₁ƒ||","i":12,"v":1.1},{"s":"||u₁ƒ||","i":13,"v":1.05},{"s":"||u₁ƒ||","i":14,"v":1.05},{"s":"||u₁ƒ||","i":15,"v":1.0},{"s":"||u₁ƒ||","i":16,"v":1.0},{"s":"||u₁ƒ||","i":17,"v":1.0},{"s":"||u₁ƒ||","i":18,"v":0.98},{"s":"||u₁ƒ||","i":19,"v":0.96},{"s":"||u₁ƒ||","i":20,"v":0.95},{"s":"||u₁ƒ||","i":21,"v":0.93},{"s":"||u₁ƒ||","i":22,"v":0.91},{"s":"||u₁ƒ||","i":23,"v":0.9},{"s":"||u₁ƒ||","i":24,"v":0.88},{"s":"||u₁ƒ||","i":25,"v":0.85},{"s":"||u₁ƒ||","i":26,"v":0.83},{"s":"||u₁ƒ||","i":27,"v":0.8},{"s":"||u₁ƒ||","i":28,"v":0.78},{"s":"||u₁ƒ||","i":29,"v":0.76},{"s":"||u₁ƒ||","i":30,"v":0.75},{"s":"||u₁ƒ||","i":31,"v":0.72},{"s":"||u₁ƒ||","i":32,"v":0.7},
      {"s":"∫δₐ²dt","i":0,"v":0.0047},{"s":"∫δₐ²dt","i":1,"v":0.045},{"s":"∫δₐ²dt","i":2,"v":0.17},{"s":"∫δₐ²dt","i":3,"v":0.29},{"s":"∫δₐ²dt","i":4,"v":0.41},{"s":"∫δₐ²dt","i":5,"v":0.5},{"s":"∫δₐ²dt","i":6,"v":0.6},{"s":"∫δₐ²dt","i":7,"v":0.66},{"s":"∫δₐ²dt","i":8,"v":0.71},{"s":"∫δₐ²dt","i":9,"v":0.78},{"s":"∫δₐ²dt","i":10,"v":0.85},{"s":"∫δₐ²dt","i":11,"v":0.9},{"s":"∫δₐ²dt","i":12,"v":0.95},{"s":"∫δₐ²dt","i":13,"v":1.0},{"s":"∫δₐ²dt","i":14,"v":1.1},{"s":"∫δₐ²dt","i":15,"v":1.2},{"s":"∫δₐ²dt","i":16,"v":1.4},{"s":"∫δₐ²dt","i":17,"v":1.3},{"s":"∫δₐ²dt","i":18,"v":1.2},{"s":"∫δₐ²dt","i":19,"v":1.15},{"s":"∫δₐ²dt","i":20,"v":1.1},{"s":"∫δₐ²dt","i":21,"v":1.05},{"s":"∫δₐ²dt","i":22,"v":1.0},{"s":"∫δₐ²dt","i":23,"v":0.97},{"s":"∫δₐ²dt","i":24,"v":0.94},{"s":"∫δₐ²dt","i":25,"v":0.9},{"s":"∫δₐ²dt","i":26,"v":0.87},{"s":"∫δₐ²dt","i":27,"v":0.84},{"s":"∫δₐ²dt","i":28,"v":0.8},{"s":"∫δₐ²dt","i":29,"v":0.77},{"s":"∫δₐ²dt","i":30,"v":0.74},{"s":"∫δₐ²dt","i":31,"v":0.7},{"s":"∫δₐ²dt","i":32,"v":0.66}
    ]
  },
  "concat": [
    {
      "width": 368, "height": 245,
      "layer": [
        {
          "data": {"name": "traj"},
          "transform": [{"filter": "datum.k < 33"}],
          "mark": {"type": "line", "strokeWidth": 3.5, "interpolate": "catmull-rom", "clip": true},
          "encoding": {
            "x": {"field": "x", "type": "quantitative", "title": "Position x₁ [m]", "scale": {"domain": [-3748, 2794], "nice": false, "zero": false}, "axis": {"values": [-2000, -1000, 0, 1000, 2000], "format": "d"}},
            "y": {"field": "y", "type": "quantitative", "title": "Position x₂ [m]", "scale": {"domain": [-640, 3712], "nice": false, "zero": false}, "axis": {"values": [0, 1000, 2000], "format": "d", "labelAngle": -90}},
            "color": {"field": "k", "type": "quantitative", "scale": {"scheme": "inferno", "reverse": true, "domain": [1, 33]}, "legend": null},
            "detail": {"field": "k"},
            "order": {"value": null}
          }
        },
        {
          "data": {"name": "traj"},
          "transform": [{"filter": "datum.k == 33"}],
          "mark": {"type": "line", "strokeWidth": 4.5, "interpolate": "catmull-rom", "color": "black", "clip": true},
          "encoding": {
            "x": {"field": "x", "type": "quantitative", "title": "Position x₁ [m]"},
            "y": {"field": "y", "type": "quantitative", "title": "Position x₂ [m]"},
            "order": {"value": null}
          }
        }
      ]
    },
    {
      "width": 344, "height": 245,
      "layer": [
        {
          "data": {"name": "ref"},
          "transform": [{"filter": "datum.k < 33"}],
          "mark": {"type": "line", "interpolate": "step-after", "strokeWidth": 2.6},
          "encoding": {
            "x": {"field": "t", "type": "quantitative", "title": "Time t [s]", "scale": {"domain": [-7.5, 164.5], "nice": false, "zero": false}, "axis": {"values": [0, 50, 100, 150]}},
            "y": {"field": "d", "type": "quantitative", "title": "Reference δ(t) [rad/s]", "scale": {"domain": [-1.1, 1.1], "nice": false, "zero": false}, "axis": {"values": [-1, 0, 1], "labelAngle": -90, "labelExpr": "datum.value > 0.5 ? 'ψ̇ₘ' : datum.value < -0.5 ? '−ψ̇ₘ' : '0'"}},
            "color": {
              "field": "k", "type": "quantitative",
              "scale": {"scheme": "inferno", "reverse": true, "domain": [1, 33]},
              "legend": {
                "title": "Iteration #", "orient": "right", "offset": 7, "padding": 0,
                "gradientLength": 245, "gradientThickness": 17, "values": [10, 20, 30],
                "gradientStrokeColor": "black", "gradientStrokeWidth": 1.5,
                "labelFont": "Liberation Serif", "labelFontSize": 18, "labelColor": "black", "labelOffset": 15,
                "titleOrient": "right", "titleFont": "DejaVu Sans", "titleFontSize": 16.5, "titleFontWeight": "normal", "titleColor": "black", "titlePadding": 8,
                "encode": {"title": {"angle": {"value": -90}, "baseline": {"value": "top"}}}
              }
            },
            "detail": {"field": "k"}
          }
        },
        {
          "data": {"name": "ref"},
          "transform": [{"filter": "datum.k == 33"}],
          "mark": {"type": "line", "interpolate": "step-after", "strokeWidth": 4.5, "color": "black"},
          "encoding": {
            "x": {"field": "t", "type": "quantitative", "title": "Time t [s]"},
            "y": {"field": "d", "type": "quantitative", "title": "Reference δ(t) [rad/s]"}
          }
        },
        {
          "data": {"values": [{"lim": 1}, {"lim": -1}]},
          "mark": {"type": "rule", "color": "red", "strokeWidth": 5, "strokeDash": [21.5, 10]},
          "encoding": {
            "y": {"field": "lim", "type": "quantitative", "title": "Reference δ(t) [rad/s]"},
            "x": {"datum": 0},
            "x2": {"datum": 152}
          }
        }
      ]
    },
    {
      "width": 368, "height": 245,
      "layer": [
        {
          "data": {"name": "uerr"},
          "transform": [{"filter": "datum.k < 33"}],
          "mark": {"type": "line", "strokeWidth": 1.8},
          "encoding": {
            "x": {"field": "t", "type": "quantitative", "title": null, "scale": {"domain": [-7.45, 164.1], "nice": false, "zero": false}, "axis": {"values": [0, 50, 100, 150]}},
            "y": {"field": "u", "type": "quantitative", "title": "||u||₂ − v [m/s]", "scale": {"domain": [-1.1, 1.1], "nice": false, "zero": false}, "axis": {"values": [-1, 0, 1], "labelAngle": -90, "labelExpr": "datum.value > 0.5 ? 'ϵₕ' : datum.value < -0.5 ? '−ϵₕ' : '0'"}},
            "color": {"field": "k", "type": "quantitative", "scale": {"scheme": "inferno", "reverse": true, "domain": [1, 33]}, "legend": null},
            "detail": {"field": "k"}
          }
        },
        {
          "data": {"name": "uerr"},
          "transform": [{"filter": "datum.k == 33"}],
          "mark": {"type": "line", "strokeWidth": 5, "color": "black"},
          "encoding": {
            "x": {"field": "t", "type": "quantitative", "title": null},
            "y": {"field": "u", "type": "quantitative", "title": "||u||₂ − v [m/s]"}
          }
        },
        {
          "data": {"values": [{"lim": 1}, {"lim": -1}]},
          "mark": {"type": "rule", "color": "red", "strokeWidth": 5, "strokeDash": [21.5, 10]},
          "encoding": {
            "y": {"field": "lim", "type": "quantitative", "title": "||u||₂ − v [m/s]"},
            "x": {"datum": 0},
            "x2": {"datum": 157.2}
          }
        }
      ]
    },
    {
      "width": 363, "height": 245,
      "layer": [
        {
          "data": {"name": "conv"},
          "mark": {"type": "line", "strokeWidth": 2, "color": "black"},
          "encoding": {
            "x": {"field": "i", "type": "quantitative", "title": "Iteration # [-]", "scale": {"domain": [-1.5, 33.55], "nice": false, "zero": false}, "axis": {"values": [0, 10, 20, 30]}},
            "y": {"field": "v", "type": "quantitative", "title": "Value [-]", "scale": {"type": "log", "domain": [1e-12, 1e6], "nice": false}, "axis": {"values": [1e-12, 1e-9, 1e-6, 1e-3, 1, 1e3, 1e6], "labelExpr": "datum.value >= 1e5 ? '10⁶' : datum.value >= 100 ? '10³' : datum.value >= 0.1 ? '10⁰' : datum.value >= 1e-4 ? '10⁻³' : datum.value >= 1e-7 ? '10⁻⁶' : datum.value >= 1e-10 ? '10⁻⁹' : '10⁻¹²'"}},
            "strokeDash": {
              "field": "s", "type": "nominal",
              "scale": {"domain": ["∑", "||xƒ||", "||u₁ƒ||", "∫δₐ²dt"], "range": [[1, 0], [8, 3.4], [2, 3.4], [13, 3.4, 2, 3.4]]},
              "legend": {
                "title": null, "orient": "bottom-left", "offset": 9, "padding": 8,
                "fillColor": "rgba(255,255,255,0.8)", "strokeColor": "#cccccc", "cornerRadius": 5,
                "symbolType": "M-1.1,0H1.75", "symbolSize": 784, "symbolStrokeWidth": 2, "symbolStrokeColor": "black",
                "labelFont": "Liberation Serif", "labelFontStyle": "italic", "labelFontSize": 20, "labelColor": "black", "labelOffset": 25, "rowPadding": 4
              }
            }
          }
        },
        {
          "data": {"values": [{}]},
          "mark": {"type": "rule", "color": "red", "strokeWidth": 2.5},
          "encoding": {"x": {"datum": 31}}
        },
        {
          "data": {"values": [{}]},
          "mark": {"type": "text", "text": "1ˢᵗ stage", "angle": 270, "color": "red", "font": "DejaVu Sans", "fontSize": 16, "align": "center", "baseline": "alphabetic"},
          "encoding": {"x": {"datum": 30.35}, "y": {"datum": 3.5e-5}}
        },
        {
          "data": {"values": [{}]},
          "mark": {"type": "text", "text": "2ⁿᵈ stage", "angle": 270, "color": "red", "font": "DejaVu Sans", "fontSize": 16, "align": "center", "baseline": "alphabetic"},
          "encoding": {"x": {"datum": 32.95}, "y": {"datum": 3.5e-5}}
        }
      ]
    }
  ]
}
